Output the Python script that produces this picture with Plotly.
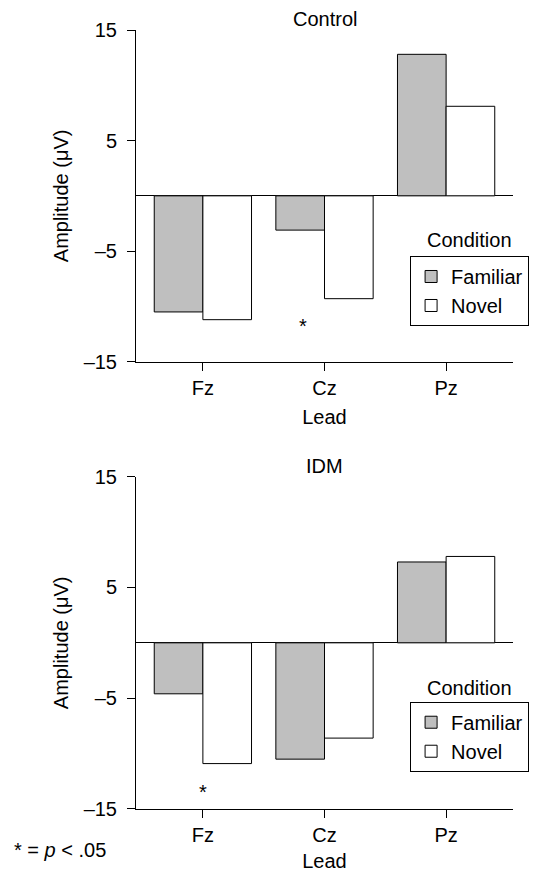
import plotly.graph_objects as go

# ERP amplitude by lead, for two groups
leads = ["Fz", "Cz", "Pz"]
control_familiar = [-10.5, -3.1, 12.8]
control_novel = [-11.2, -9.3, 8.1]
idm_familiar = [-4.6, -10.5, 7.3]
idm_novel = [-10.9, -8.6, 7.8]
y_tickvals = [-15, -5, 5, 15]
y_ticktext = ["\u201315", "\u20135", "5", "15"]

FONT = "Liberation Sans, Arial, Helvetica, sans-serif"
GREY = "#bfbfbf"
FS = 20

fig = go.Figure()


def add_pair(fam, nov, xa, ya, leg):
    fig.add_trace(go.Bar(x=leads, y=fam, name="Familiar", xaxis=xa, yaxis=ya,
                         marker=dict(color=GREY, line=dict(color="black", width=1)),
                         legend=leg, legendgroup=leg + "f"))
    fig.add_trace(go.Bar(x=leads, y=nov, name="Novel", xaxis=xa, yaxis=ya,
                         marker=dict(color="white", line=dict(color="black", width=1)),
                         legend=leg, legendgroup=leg + "n"))


add_pair(control_familiar, control_novel, "x", "y", "legend")
add_pair(idm_familiar, idm_novel, "x2", "y2", "legend2")

xcommon = dict(type="category", range=[-0.55, 2.55], showline=True, linecolor="black",
               linewidth=1, ticks="outside", ticklen=8, tickcolor="black",
               showgrid=False, zeroline=False,
               tickfont=dict(family=FONT, size=FS, color="black"),
               title=dict(text="Lead", font=dict(family=FONT, size=FS, color="black"),
                          standoff=12))
ycommon = dict(range=[-15, 15], tickvals=y_tickvals, ticktext=y_ticktext,
               showline=True, linecolor="black", linewidth=1, ticks="outside",
               ticklen=8, tickcolor="black", showgrid=False,
               zeroline=True, zerolinecolor="black", zerolinewidth=1,
               ticklabelstandoff=6,
               tickfont=dict(family=FONT, size=FS, color="black"),
               title=dict(text="Amplitude (\u03bcV)",
                          font=dict(family=FONT, size=FS, color="black"), standoff=9))

legcommon = dict(bordercolor="black", borderwidth=1, bgcolor="white",
                 font=dict(family=FONT, size=FS, color="black"),
                 xanchor="left", yanchor="top", tracegroupgap=12,
                 traceorder="normal", entrywidth=84)

top_dom = [0.5742, 1.0]
bot_dom = [0.0, 0.4266]

fig.update_layout(
    width=537, height=872,
    margin=dict(l=136, r=24, t=30, b=63, autoexpand=False),
    paper_bgcolor="white", plot_bgcolor="white",
    barmode="group", bargap=0.2, bargroupgap=0,
    xaxis=dict(domain=[0, 1], anchor="y", **xcommon),
    yaxis=dict(domain=top_dom, anchor="x", **ycommon),
    xaxis2=dict(domain=[0, 1], anchor="y2", **xcommon),
    yaxis2=dict(domain=bot_dom, anchor="x2", **ycommon),
    legend=dict(x=0.727, y=0.7099, **legcommon),
    legend2=dict(x=0.727, y=0.1377, **legcommon),
    showlegend=True,
)

tfont = dict(family=FONT, size=FS, color="black")
annotations = [
    dict(text="Control", x=0.5, y=1.0, xref="paper", yref="paper",
         xanchor="center", yanchor="bottom", yshift=-2, showarrow=False, font=tfont),
    dict(text="IDM", x=0.5, y=bot_dom[1], xref="paper", yref="paper",
         xanchor="center", yanchor="bottom", yshift=-2, showarrow=False, font=tfont),
    dict(text="Condition", x=0.885, y=0.7305, xref="paper", yref="paper",
         xanchor="center", yanchor="middle", showarrow=False, font=tfont),
    dict(text="Condition", x=0.885, y=0.1553, xref="paper", yref="paper",
         xanchor="center", yanchor="middle", showarrow=False, font=tfont),
    dict(text="*", x=0.82, y=-11.8, xref="x", yref="y", showarrow=False,
         font=tfont),
    dict(text="*", x=0, y=-13.5, xref="x2", yref="y2", showarrow=False,
         font=tfont),
    dict(text="* = <i>p</i> < .05", x=-0.33, y=-0.053, xref="paper", yref="paper",
         xanchor="left", yanchor="middle", showarrow=False, font=tfont),
]
fig.update_layout(annotations=annotations)

fig.write_html("out.html")
